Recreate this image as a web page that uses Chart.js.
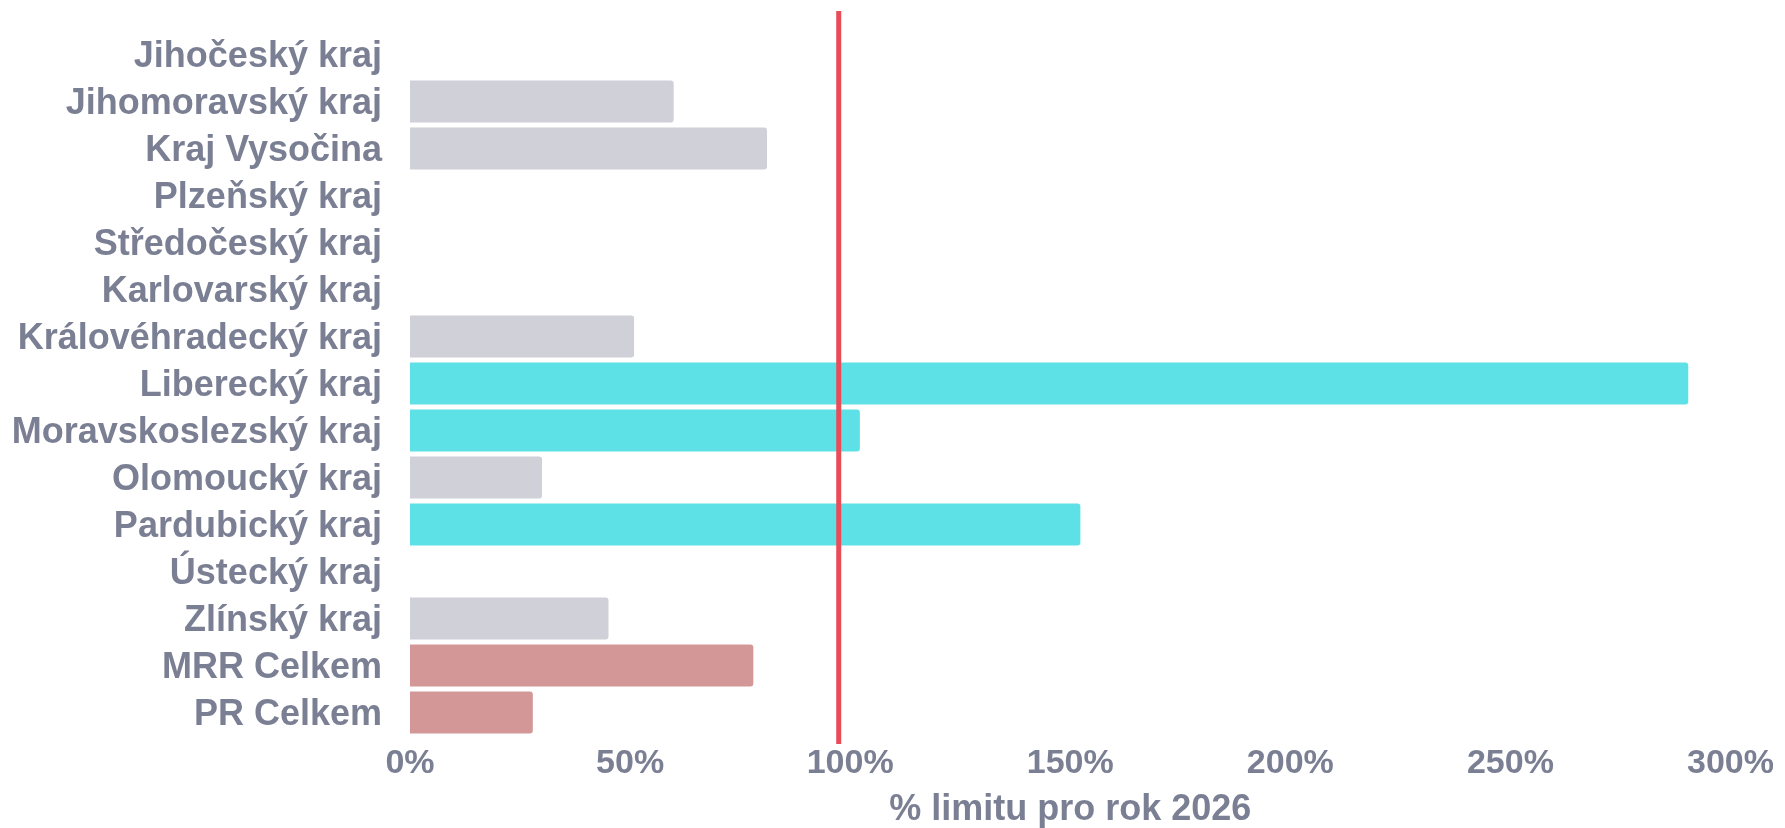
<!DOCTYPE html>
<html>
<head>
<meta charset="utf-8">
<script src="https://cdn.jsdelivr.net/npm/chart.js@4/dist/chart.umd.min.js"></script>
<style>
  html, body { margin: 0; padding: 0; background: #fff; }
  #wrap { width: 1785px; height: 828px; position: relative; }
</style>
</head>
<body>
<div id="wrap"><canvas id="chart"></canvas></div>
<script>
const kraje = ['Jihočeský kraj', 'Jihomoravský kraj', 'Kraj Vysočina', 'Plzeňský kraj', 'Středočeský kraj',
  'Karlovarský kraj', 'Královéhradecký kraj', 'Liberecký kraj', 'Moravskoslezský kraj', 'Olomoucký kraj',
  'Pardubický kraj', 'Ústecký kraj', 'Zlínský kraj', 'MRR Celkem', 'PR Celkem'];
const procentaLimitu = [0, 59.9, 81.1, 0, 0, 0, 50.9, 290.4, 102.2, 30.0, 152.3, 0, 45.1, 78.0, 27.9];
const celkem = ['MRR Celkem', 'PR Celkem'];
const limitCara = 97.4;
const osaX = { min: 0, max: 300, step: 50 };

const textColor = '#7b7f93';

// barva podle skupiny: souhrny, nad limitem, pod limitem
const barvy = kraje.map((k, i) => {
  if (celkem.includes(k)) return '#d39797';
  return procentaLimitu[i] > limitCara ? '#5ee1e6' : '#cfd0d8';
});

const limitPlugin = {
  id: 'limitLine',
  afterDatasetsDraw(chart) {
    const { ctx, chartArea, scales } = chart;
    const x = scales.x.getPixelForValue(limitCara);
    ctx.save();
    ctx.strokeStyle = '#ea4b59';
    ctx.lineWidth = 5;
    ctx.beginPath();
    ctx.moveTo(x, chartArea.top - 20);
    ctx.lineTo(x, chartArea.bottom + 8);
    ctx.stroke();
    ctx.restore();
  }
};

new Chart(document.getElementById('chart'), {
  type: 'bar',
  data: {
    labels: kraje,
    datasets: [{
      data: procentaLimitu,
      backgroundColor: barvy,
      borderRadius: 3,
      barPercentage: 0.89,
      categoryPercentage: 1
    }]
  },
  options: {
    indexAxis: 'y',
    responsive: true,
    maintainAspectRatio: false,
    animation: false,
    layout: { padding: { top: 31, right: 10, bottom: 0, left: 0 } },
    plugins: { legend: { display: false }, tooltip: { enabled: false } },
    scales: {
      x: {
        min: osaX.min,
        max: osaX.max,
        grid: { display: false, drawTicks: false },
        border: { display: false },
        afterFit: s => { s.height = 92; },
        ticks: {
          stepSize: osaX.step,
          padding: 11,
          color: textColor,
          font: { family: 'Liberation Sans, Arial, sans-serif', size: 34, weight: 'bold', lineHeight: 1 },
          callback: v => v + '%'
        },
        title: {
          display: true,
          text: '% limitu pro rok 2026',
          color: textColor,
          padding: { top: 10, bottom: 0 },
          font: { family: 'Liberation Sans, Arial, sans-serif', size: 36, weight: 'bold', lineHeight: 1 }
        }
      },
      y: {
        grid: { display: false, drawTicks: false },
        border: { display: false },
        afterFit: s => { s.width = 410; s.paddingTop = 0; s.paddingBottom = 0; },
        ticks: {
          padding: 28,
          labelOffset: 3,
          color: textColor,
          font: { family: 'Liberation Sans, Arial, sans-serif', size: 36, weight: 'bold', lineHeight: 1 }
        }
      }
    }
  },
  plugins: [limitPlugin]
});
</script>
</body>
</html>
